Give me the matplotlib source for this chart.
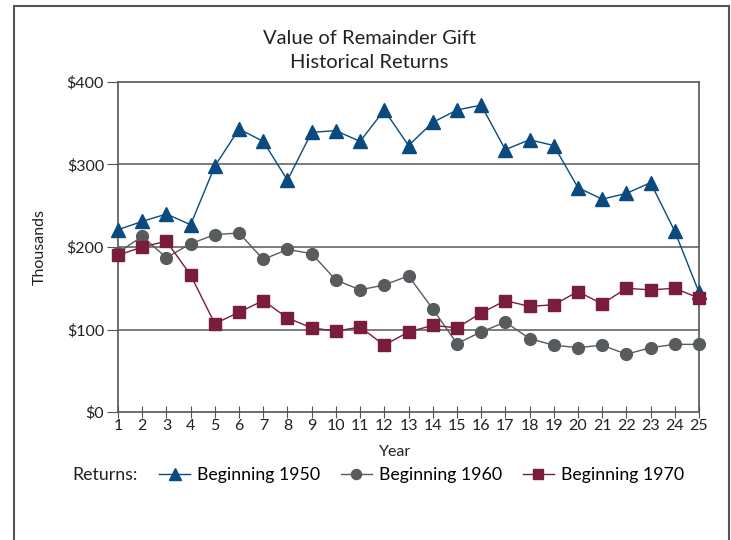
import matplotlib.pyplot as plt
import matplotlib.patches as patches

plt.rcParams['font.family'] = ['Lato', 'DejaVu Sans']

# datos (miles de dolares)
years = list(range(1, 26))
b1950 = [221, 231, 240, 227, 298, 343, 328, 281, 339, 341, 328, 366, 323,
         351, 366, 372, 318, 330, 323, 272, 258, 265, 278, 219, 145]
b1960 = [193, 213, 187, 204, 215, 217, 185, 197, 192, 160, 148, 154, 165,
         125, 83, 97, 109, 89, 81, 78, 81, 70, 78, 82, 82]
b1970 = [190, 200, 207, 166, 107, 121, 135, 114, 102, 98, 103, 81, 97,
         105, 102, 120, 135, 128, 130, 146, 131, 150, 148, 150, 138]
yticks = [0, 100, 200, 300, 400]

blue = '#0a4a7e'
gray = '#585b5e'
red = '#7a1c3b'
axcol = '#555555'

fig = plt.figure(figsize=(7.31, 5.4), dpi=100)
ax = fig.add_axes([118/731, 1-412/540, 581/731, 330/540])

l1, = ax.plot(years, b1950, color=blue, lw=1, marker='^', ms=10, zorder=3, clip_on=False)
l2, = ax.plot(years, b1960, color=gray, lw=1, marker='o', ms=8.5, zorder=3, clip_on=False)
l3, = ax.plot(years, b1970, color=red, lw=1, marker='s', ms=8.5, zorder=4, clip_on=False)

ax.set_xlim(1, 25)
ax.set_ylim(0, 400)
ax.set_xticks(years)
ax.set_yticks(yticks)
ax.set_yticklabels(['$' + str(v) for v in yticks])
ax.tick_params(axis='x', direction='inout', length=8, pad=1, labelsize=11.5,
               color=axcol, labelcolor='#222222')
ax.tick_params(axis='y', direction='out', length=8, pad=2, labelsize=11.5,
               color=axcol, labelcolor='#222222')
for y in [100, 200, 300]:
    ax.axhline(y, color='#666666', lw=1.2, zorder=1)
for s in ax.spines.values():
    s.set_color(axcol)
    s.set_linewidth(1.2)

ax.set_xlabel('Year', fontsize=11.5, color='#222222')
ax.xaxis.set_label_coords((395-118)/581, -0.1)
ax.set_ylabel('Thousands', fontsize=11.5, color='#222222')
ax.yaxis.set_label_coords(-(118-47)/581, 0.5)

fig.text(0.505, 1-38/540, 'Value of Remainder Gift', ha='center', va='center',
         fontsize=14.5, color='#222222')
fig.text(0.505, 1-62/540, 'Historical Returns', ha='center', va='center',
         fontsize=14.5, color='#222222')

fig.text(72/731, 1-475/540, 'Returns:', ha='left', va='center', fontsize=12.8,
         color='#222222')
fig.legend([l1, l2, l3], ['Beginning 1950', 'Beginning 1960', 'Beginning 1970'],
           loc='center left', bbox_to_anchor=(159/731, 1-475/540), ncol=3,
           frameon=False, fontsize=12.8, handlelength=1.75, columnspacing=1.15,
           handletextpad=0.4, markerscale=0.85, borderaxespad=0, borderpad=0)

frame = patches.Rectangle((14/731, -0.1), (729-14)/731, 1.1-6/540,
                          transform=fig.transFigure, fill=False,
                          edgecolor='#555555', lw=1.5, clip_on=False)
fig.patches.append(frame)

plt.savefig('out.png', dpi=100)
